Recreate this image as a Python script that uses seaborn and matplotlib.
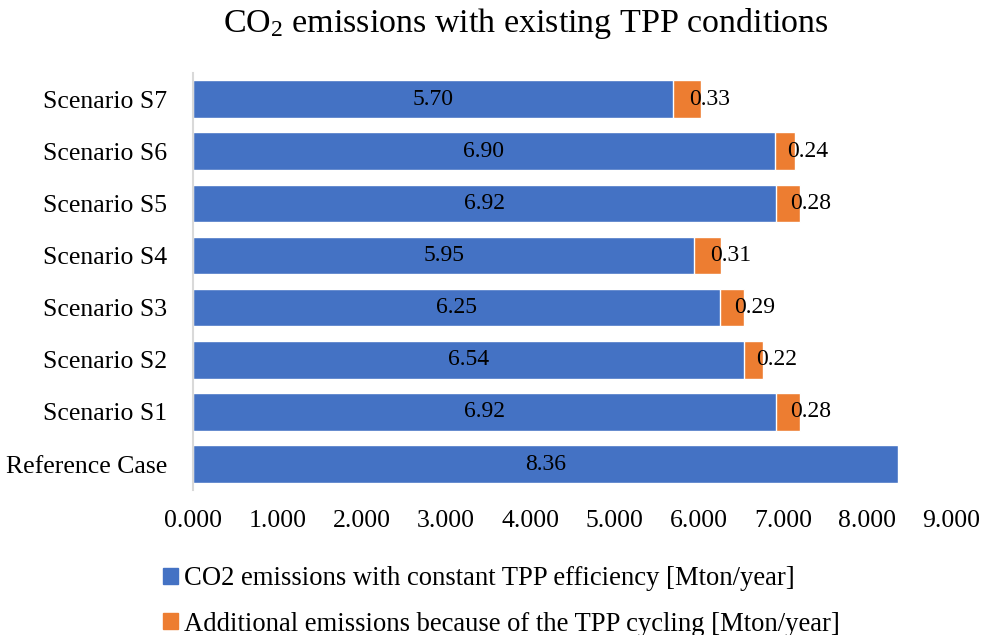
import matplotlib
matplotlib.use("Agg")
import matplotlib.pyplot as plt
import seaborn as sns
import pandas as pd
from matplotlib.patches import Patch

categories = ["Scenario S7", "Scenario S6", "Scenario S5", "Scenario S4",
              "Scenario S3", "Scenario S2", "Scenario S1", "Reference Case"]
constant_eff = [5.70, 6.90, 6.92, 5.95, 6.25, 6.54, 6.92, 8.36]
cycling_extra = [0.33, 0.24, 0.28, 0.31, 0.29, 0.22, 0.28, 0.0]
x_ticks = [0, 1, 2, 3, 4, 5, 6, 7, 8, 9]
series_names = ["CO2 emissions with constant TPP efficiency [Mton/year]",
                "Additional emissions because of the TPP cycling [Mton/year]"]

BLUE = "#4472C4"
ORANGE = "#ED7D31"

sns.set_theme(style="white")
plt.rcParams["font.family"] = ["Liberation Serif", "DejaVu Serif"]
plt.rcParams["mathtext.fontset"] = "custom"
plt.rcParams["mathtext.rm"] = "Liberation Serif"
plt.rcParams["mathtext.it"] = "Liberation Serif:italic"
plt.rcParams["text.color"] = "black"
plt.rcParams["xtick.color"] = "black"
plt.rcParams["ytick.color"] = "black"
plt.rcParams["xtick.labelcolor"] = "black"
plt.rcParams["ytick.labelcolor"] = "black"

df = pd.DataFrame({"cat": categories, "base": constant_eff, "extra": cycling_extra})
df["total"] = df["base"] + df["extra"]

fig = plt.figure(figsize=(9.85, 6.35), dpi=100)
ax = fig.add_axes([0.196, 0.228, 0.770, 0.657])

# stacked look: total in orange underneath, constant-efficiency part in blue on top
sns.barplot(data=df, y="cat", x="total", color=ORANGE, saturation=1,
            width=0.72, orient="h", ax=ax)
sns.barplot(data=df, y="cat", x="base", color=BLUE, saturation=1,
            width=0.72, orient="h", ax=ax)

for i, (b, e) in enumerate(zip(constant_eff, cycling_extra)):
    ax.text(b / 2, i, f"{b:.2f}", ha="center", va="center", fontsize=17, color="black")
    if e > 0:
        ax.text(b + e / 2 + 0.27, i, f"{e:.2f}", ha="center", va="center",
                fontsize=17, color="black")

ax.set_xlim(0, 9)
ax.set_xticks(x_ticks)
ax.set_xticklabels([f"{v:.3f}" for v in x_ticks])
ax.set_xlabel("")
ax.set_ylabel("")
ax.tick_params(axis="x", length=0, pad=14, labelsize=18.5, labelcolor="black")
ax.tick_params(axis="y", length=0, pad=18.5, labelsize=18.5, labelcolor="black")
for s in ["top", "right", "bottom"]:
    ax.spines[s].set_visible(False)
ax.spines["left"].set_color("#d9d9d9")
ax.spines["left"].set_linewidth(1.5)
ax.grid(False)

fig.suptitle("CO$_2$ emissions with existing TPP conditions", fontsize=24.5,
             x=0.534, y=0.99, color="black")

handles = [Patch(color=BLUE), Patch(color=ORANGE)]
fig.legend(handles, series_names, loc="upper left",
           bbox_to_anchor=(163 / 985, 1 - 566 / 635),
           frameon=False, fontsize=19.2, handlelength=0.55, handleheight=0.55,
           handletextpad=0.25, labelspacing=0.78, borderaxespad=0, borderpad=0,
           labelcolor="black")

fig.savefig("out.png", dpi=100)
